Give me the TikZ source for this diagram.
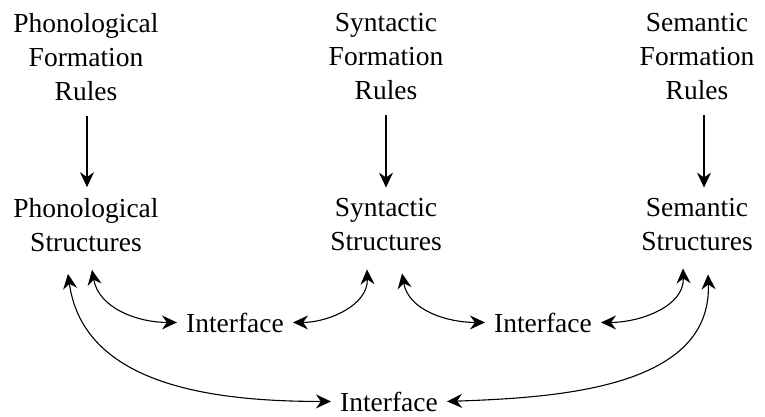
\documentclass[tikz,border=0pt]{standalone}
\usepackage{fontspec}
\setmainfont{Liberation Serif}
\usetikzlibrary{arrows.meta,calc}
\begin{document}
\begin{tikzpicture}[x=1pt,y=1pt,
  lbl/.style={inner sep=0pt,align=center,font=\fontsize{27.5}{34}\selectfont},
  ifc/.style={inner xsep=9pt,inner ysep=0pt,font=\fontsize{27.5}{34}\selectfont},
  conn/.style={line width=1.1pt,black},
  >={Stealth[length=15pt,width=14pt,inset=5pt]}]
\useasboundingbox (0,0) rectangle (765,416);
% top rule nodes
\node[lbl] (r1) at (86,359) {Phonological\\Formation\\Rules};
\node[lbl] (r2) at (386,359) {Syntactic\\Formation\\Rules};
\node[lbl] (r3) at (697,359) {Semantic\\Formation\\Rules};
% structure nodes
\node[lbl] (s1) at (86,191) {Phonological\\Structures};
\node[lbl] (s2) at (386,191) {Syntactic\\Structures};
\node[lbl] (s3) at (697,191) {Semantic\\Structures};
% interface nodes
\node[ifc,anchor=base] (i1) at (235,84) {Interface};
\node[ifc,anchor=base] (i2) at (543,84) {Interface};
\node[ifc,anchor=base] (i3) at (389,5) {Interface};
% vertical arrows
\draw[conn,->] ([xshift=1pt,yshift=-15pt]r1.south) -- ([xshift=1pt,yshift=11pt]s1.north);
\draw[conn,->] ([yshift=-15pt]r2.south) -- ([yshift=11pt]s2.north);
\draw[conn,->] ([xshift=7pt,yshift=-15pt]r3.south) -- ([xshift=7pt,yshift=11pt]s3.north);
% anchor points below structures
\coordinate (s1a) at ($(s1.south)+(-18,-22)$);
\coordinate (s1b) at ($(s1.south)+(6,-18)$);
\coordinate (s2a) at ($(s2.south)+(-19,-18)$);
\coordinate (s2b) at ($(s2.south)+(16,-22)$);
\coordinate (s3a) at ($(s3.south)+(-14,-17)$);
\coordinate (s3b) at ($(s3.south)+(11,-23)$);
% interface arrows
\draw[conn,<->] (s1b) to[out=-80,in=180] (i1.west);
\draw[conn,<->] (i1.east) to[out=0,in=-88] (s2a);
\draw[conn,<->] (s2b) to[out=-80,in=180] (i2.west);
\draw[conn,<->] (i2.east) to[out=0,in=-88] (s3a);
\draw[conn,<->] (s1a) to[out=-82,in=180] (i3.west);
\draw[conn,<->] (i3.east) to[out=2,in=-88] (s3b);
\end{tikzpicture}
\end{document}
